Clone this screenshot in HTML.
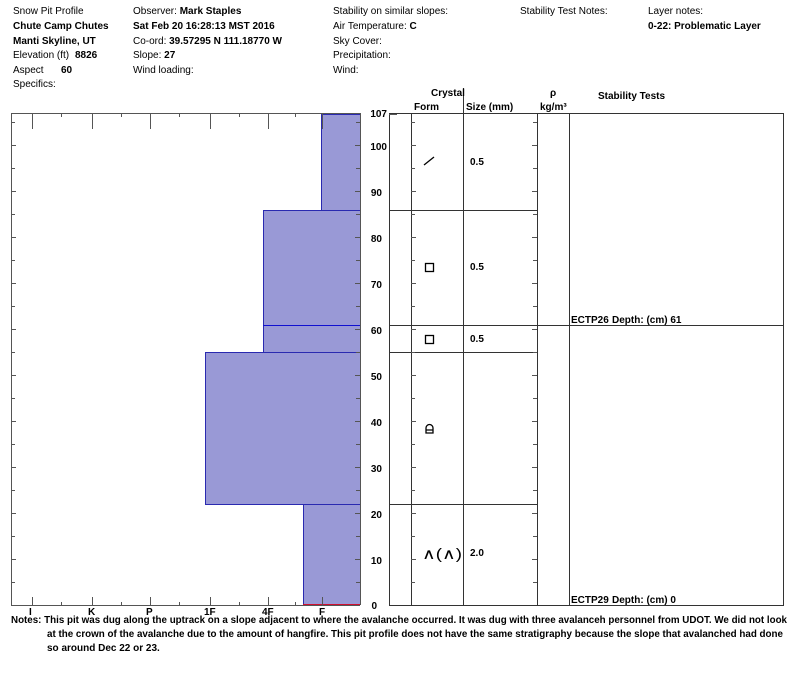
<!DOCTYPE html>
<html><head><style>
body{margin:0;background:#fff;}
svg text{font-family:"Liberation Sans",Arial,sans-serif;font-size:10px;fill:#000;}
.b{font-weight:bold;}
</style></head><body>
<svg width="800" height="676" xmlns="http://www.w3.org/2000/svg">
<g>
<text x="13" y="14">Snow Pit Profile</text>
<text x="13" y="29" class="b">Chute Camp Chutes</text>
<text x="13" y="44" class="b">Manti Skyline, UT</text>
<text x="13" y="58">Elevation (ft) <tspan class="b" x="75">8826</tspan></text>
<text x="13" y="73">Aspect <tspan class="b" x="61">60</tspan></text>
<text x="13" y="87">Specifics:</text>
<text x="133" y="14">Observer:  <tspan class="b">Mark Staples</tspan></text>
<text x="133" y="29" class="b">Sat Feb 20 16:28:13 MST 2016</text>
<text x="133" y="44">Co-ord:  <tspan class="b">39.57295 N 111.18770 W</tspan></text>
<text x="133" y="58">Slope:  <tspan class="b">27</tspan></text>
<text x="133" y="73">Wind loading:</text>
<text x="333" y="14">Stability on similar slopes:</text>
<text x="333" y="29">Air Temperature:  <tspan class="b">C</tspan></text>
<text x="333" y="44">Sky Cover:</text>
<text x="333" y="58">Precipitation:</text>
<text x="333" y="73">Wind:</text>
<text x="520" y="14">Stability Test Notes:</text>
<text x="648" y="14">Layer notes:</text>
<text x="648" y="29" class="b">0-22: Problematic Layer</text>
</g>
<g fill="#9999d6" stroke="#2a2ab0" stroke-width="1">
<rect x="303.5" y="504.5" width="57" height="100"/>
<rect x="205.5" y="352.5" width="155" height="152"/>
<rect x="263.5" y="210.5" width="97" height="142"/>
<rect x="321.5" y="114.5" width="39" height="96"/>
</g>
<line x1="263" y1="325.5" x2="360" y2="325.5" stroke="#1010d0" stroke-width="1"/>
<line x1="303" y1="605" x2="360" y2="605" stroke="#d01030" stroke-width="2"/>
<g stroke="#555" stroke-width="1" fill="none">
<path d="M11.5 605V113.5H360.5V605"/>
<path d="M11 605.5H360"/>
</g>
<text x="29" y="615" class="b">I</text>
<text x="88" y="615" class="b">K</text>
<text x="146" y="615" class="b">P</text>
<text x="204" y="615" class="b">1F</text>
<text x="262" y="615" class="b">4F</text>
<text x="319" y="615" class="b">F</text>
<g stroke="#333" stroke-width="1" fill="none">
<rect x="389.5" y="113.5" width="394" height="492"/>
<line x1="411.5" y1="113" x2="411.5" y2="605"/>
<line x1="463.5" y1="88" x2="463.5" y2="605"/>
<line x1="537.5" y1="113" x2="537.5" y2="605"/>
<line x1="569.5" y1="113" x2="569.5" y2="605"/>
<line x1="389" y1="210.5" x2="537" y2="210.5"/>
<line x1="389" y1="325.5" x2="783" y2="325.5"/>
<line x1="389" y1="352.5" x2="537" y2="352.5"/>
<line x1="389" y1="504.5" x2="537" y2="504.5"/>
</g>
<text x="431" y="96" class="b">Crystal</text>
<text x="414" y="110" class="b">Form</text>
<text x="466" y="110" class="b">Size (mm)</text>
<text x="550" y="96" class="b">ρ</text>
<text x="540" y="110" class="b">kg/m³</text>
<text x="598" y="99" class="b">Stability Tests</text>
<line x1="424" y1="165" x2="434" y2="157" stroke="#000" stroke-width="1.3"/>
<text x="470" y="165" class="b">0.5</text>
<rect x="425.5" y="263.5" width="8" height="8" fill="none" stroke="#000" stroke-width="1.3"/>
<text x="470" y="270" class="b">0.5</text>
<rect x="425.5" y="335.5" width="8" height="8" fill="none" stroke="#000" stroke-width="1.3"/>
<text x="470" y="342" class="b">0.5</text>
<path d="M426 433V428a3.5 3.5 0 0 1 7 0V433ZM426 430H433" fill="none" stroke="#000" stroke-width="1.3"/>
<text x="422" y="559" style="font-size:15px" textLength="40" lengthAdjust="spacingAndGlyphs">∧(∧)</text>
<text x="470" y="556" class="b">2.0</text>
<text x="571" y="323" class="b">ECTP26<tspan x="612">Depth: (cm) 61</tspan></text>
<text x="571" y="603" class="b">ECTP29<tspan x="612">Depth: (cm) 0</tspan></text>
<text x="11" y="623" class="b" textLength="776" lengthAdjust="spacingAndGlyphs">Notes:  This pit was dug along the uptrack on a slope adjacent to where the avalanche occurred. It was dug with three avalanceh personnel from UDOT. We did not look</text>
<text x="47" y="637" class="b" textLength="736" lengthAdjust="spacingAndGlyphs">at the crown of the avalanche due to the amount of hangfire. This pit profile does not have the same stratigraphy because the slope that avalanched had done</text>
<text x="47" y="651" class="b">so around Dec 22 or 23.</text>
<g stroke="#555" stroke-width="1">
<path d="M32.5 113v16M92.5 113v16M150.5 113v16M210.5 113v16M268.5 113v16M322.5 113v16M61.5 113v4M121.5 113v4M179.5 113v4M239.5 113v4M295.5 113v4"/>
<path d="M32.5 605v-8M92.5 605v-8M150.5 605v-8M210.5 605v-8M268.5 605v-8M322.5 605v-8M61.5 605v-3M121.5 605v-3M179.5 605v-3M239.5 605v-3M295.5 605v-3"/>
<path d="M11 122.5h4M11 145.5h5M11 168.5h4M11 191.5h5M11 214.5h4M11 237.5h5M11 260.5h4M11 283.5h5M11 306.5h4M11 329.5h5M11 352.5h4M11 375.5h5M11 398.5h4M11 421.5h5M11 444.5h4M11 467.5h5M11 490.5h4M11 513.5h5M11 536.5h4M11 559.5h5M11 582.5h4"/>
<path d="M360 122.5h-4M360 145.5h-5M360 168.5h-4M360 191.5h-5M360 214.5h-4M360 237.5h-5M360 260.5h-4M360 283.5h-5M360 306.5h-4M360 329.5h-5M360 352.5h-4M360 375.5h-5M360 398.5h-4M360 421.5h-5M360 444.5h-4M360 467.5h-5M360 490.5h-4M360 513.5h-5M360 536.5h-4M360 559.5h-5M360 582.5h-4"/>
<path d="M411 122.5h4M411 145.5h5M411 168.5h4M411 191.5h5M411 214.5h4M411 237.5h5M411 260.5h4M411 283.5h5M411 306.5h4M411 329.5h5M411 352.5h4M411 375.5h5M411 398.5h4M411 421.5h5M411 444.5h4M411 467.5h5M411 490.5h4M411 513.5h5M411 536.5h4M411 559.5h5M411 582.5h4"/>
<path d="M537 122.5h-4M537 145.5h-5M537 168.5h-4M537 191.5h-5M537 214.5h-4M537 237.5h-5M537 260.5h-4M537 283.5h-5M537 306.5h-4M537 329.5h-5M537 352.5h-4M537 375.5h-5M537 398.5h-4M537 421.5h-5M537 444.5h-4M537 467.5h-5M537 490.5h-4M537 513.5h-5M537 536.5h-4M537 559.5h-5M537 582.5h-4"/>
<path d="M389 114.5h8"/>
</g>
<g text-anchor="end">
<text x="387" y="117" class="b">107</text>
<text x="387" y="150" class="b">100</text>
<text x="382" y="196" class="b">90</text>
<text x="382" y="242" class="b">80</text>
<text x="382" y="288" class="b">70</text>
<text x="382" y="334" class="b">60</text>
<text x="382" y="380" class="b">50</text>
<text x="382" y="426" class="b">40</text>
<text x="382" y="472" class="b">30</text>
<text x="382" y="518" class="b">20</text>
<text x="382" y="564" class="b">10</text>
<text x="377" y="609" class="b">0</text>
</g>
</svg>
</body></html>
